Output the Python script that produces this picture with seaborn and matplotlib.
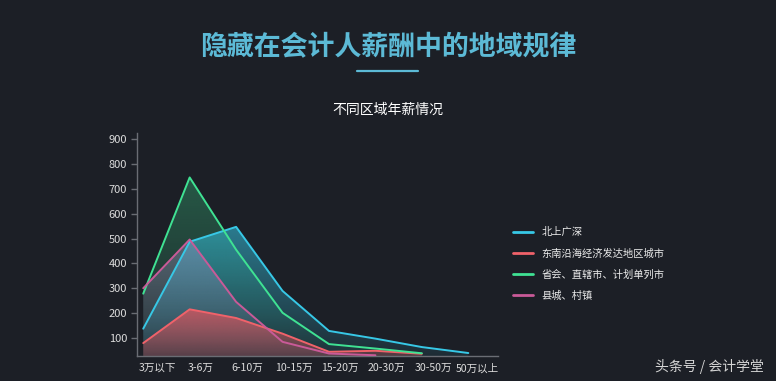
import numpy as np
import pandas as pd
import matplotlib
matplotlib.use("Agg")
import matplotlib.pyplot as plt
import matplotlib.colors as mcolors
from matplotlib.lines import Line2D
import seaborn as sns

# ---- data ----
categories = ['3万以下', '3-6万', '6-10万', '10-15万', '15-20万', '20-30万', '30-50万', '50万以上']
series_names = ['北上广深', '东南沿海经济发达地区城市', '省会、直辖市、计划单列市', '县城、村镇']
bsgs = [137, 487, 547, 289, 128, 97, 63, 39]
dongnan = [79, 215, 180, 117, 44, 48, 36]
shenghui = [278, 746, 455, 201, 75, 57, 38]
xiancheng = [300, 496, 245, 84, 37, 30]
yticks = [100, 200, 300, 400, 500, 600, 700, 800, 900]

title = '隐藏在会计人薪酬中的地域规律'
subtitle = '不同区域年薪情况'
watermark = '头条号 / 会计学堂'

colors = {'北上广深': '#37c8e6', '东南沿海经济发达地区城市': '#f0626a',
          '省会、直辖市、计划单列市': '#3fe293', '县城、村镇': '#c95a98'}
fillcolors = {'北上广深': ('#37c8e6', 0.55, 0.08),
              '东南沿海经济发达地区城市': ('#e8545c', 0.72, 0.25),
              '省会、直辖市、计划单列市': ('#3fe293', 0.30, 0.04),
              '县城、村镇': ('#a393c4', 0.40, 0.08)}

values = {'北上广深': bsgs, '东南沿海经济发达地区城市': dongnan,
          '省会、直辖市、计划单列市': shenghui, '县城、村镇': xiancheng}

rows = []
for name in series_names:
    for i, v in enumerate(values[name]):
        rows.append({'series': name, 'pos': i, 'category': categories[i], 'value': v})
df = pd.DataFrame(rows)

# ---- style ----
sns.set_theme(style='dark')
plt.rcParams['font.family'] = ['Noto Sans CJK SC', 'DejaVu Sans']
bg = '#1c1f26'
plt.rcParams['axes.unicode_minus'] = False

fig = plt.figure(figsize=(7.76, 3.81), dpi=100, facecolor=bg)
ax = fig.add_axes([0.1762, 0.0656, 0.4656, 0.5854])
ax.set_facecolor(bg)

ylo, yhi = 27, 925
xlo, xhi = -0.14, 7.64


def grad_fill(x, y, color, a_top, a_bot, zorder):
    poly = ax.fill_between(x, y, ylo, facecolor='none', edgecolor='none')
    path = poly.get_paths()[0]
    rgb = mcolors.to_rgb(color)
    n = 256
    img = np.zeros((n, 1, 4))
    img[..., 0], img[..., 1], img[..., 2] = rgb
    img[:, 0, 3] = np.linspace(a_bot, a_top, n)
    im = ax.imshow(img, aspect='auto', origin='lower',
                   extent=[min(x), max(x), ylo, max(y)],
                   zorder=zorder, interpolation='bilinear')
    im.set_clip_path(path, transform=ax.transData)


fill_order = ['省会、直辖市、计划单列市', '北上广深', '县城、村镇', '东南沿海经济发达地区城市']
for z, name in enumerate(fill_order):
    sub = df[df.series == name]
    c, at, ab = fillcolors[name]
    grad_fill(sub.pos.values, sub.value.values, c, at, ab, 1 + z * 0.1)

sns.lineplot(data=df, x='pos', y='value', hue='series', hue_order=series_names,
             palette=colors, sort=False, estimator=None, linewidth=1.4,
             legend=False, ax=ax, zorder=3)

ax.set_xlim(xlo, xhi)
ax.set_ylim(ylo, yhi)
ax.set_xlabel('')
ax.set_ylabel('')
ax.grid(False)

# ticks
bounds = [xlo] + [i - 0.26 for i in range(1, len(categories))] + [xhi]
centers = [(bounds[i] + bounds[i + 1]) / 2 for i in range(len(categories))]
ax.set_xticks(centers)
ax.set_xticklabels(categories, fontsize=7.6, color='#dcdcdc')
ax.set_xticks(bounds, minor=True)
ax.tick_params(axis='x', which='major', length=0, pad=5)
ax.tick_params(axis='x', which='minor', length=4, width=1, color='#6a6d74', direction='out')
ax.set_yticks(yticks)
ax.set_yticklabels([str(v) for v in yticks], fontsize=8, color='#dcdcdc')
ax.tick_params(axis='y', which='major', length=4, width=1, color='#6a6d74', left=True, pad=3)

for s in ['top', 'right']:
    ax.spines[s].set_visible(False)
for s in ['left', 'bottom']:
    ax.spines[s].set_visible(True)
    ax.spines[s].set_color('#6a6d74')
    ax.spines[s].set_linewidth(1)

# legend
handles = [Line2D([0], [0], color=colors[n], lw=2) for n in series_names]
leg = fig.legend(handles, series_names, loc='center left', bbox_to_anchor=(0.6607, 0.3074),
                 frameon=False, fontsize=7.4, handlelength=2.0, handletextpad=0.8,
                 labelspacing=1.05, borderpad=0, borderaxespad=0)
for t in leg.get_texts():
    t.set_color('#ececec')

# titles
fig.text(0.5, 1 - 47 / 381, title, ha='center', va='center', fontsize=19.4,
         fontweight='heavy', color='#5cbad6')
fig.add_artist(Line2D([357 / 776, 418 / 776], [1 - 71 / 381, 1 - 71 / 381],
                      color='#5cbad6', lw=1.6))
fig.text(0.5, 1 - 110 / 381, subtitle, ha='center', va='center', fontsize=10,
         color='#ffffff')
fig.text(709 / 776, 1 - 366 / 381, watermark, ha='center', va='center', fontsize=10,
         color='#d4d4d4')

fig.savefig('out.png', dpi=100, facecolor=bg)
